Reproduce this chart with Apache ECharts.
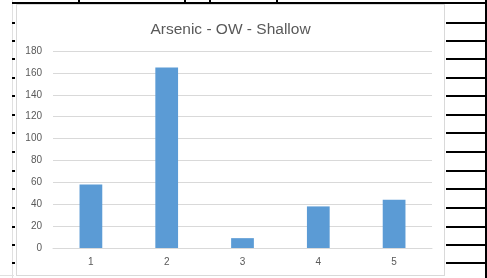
<!DOCTYPE html>
<html lang="en">

<head>
    <meta charset="UTF-8">
    <title>Arsenic - OW - Shallow</title>
    <script src="https://cdn.jsdelivr.net/npm/echarts@6/dist/echarts.min.js"></script>
    <style>
        body {
            margin: 0;
            background-color: white;
            width: 487px;
            height: 278px;
            position: relative;
            overflow: hidden;
        }

        .line {
            position: absolute;
            background-color: black;
        }

        .grayline {
            position: absolute;
            background-color: #e0e0e0;
        }

        #main {
            position: absolute;
            left: 16px;
            top: 4px;
            width: 429px;
            height: 272px;
            box-sizing: border-box;
            border: 1px solid #d9d9d9;
            background: white;
        }
    </style>
</head>

<body>
    <div id="sheet"></div>
    <div id="main"></div>

    <script>
        // chart data
        let categories = ['1', '2', '3', '4', '5'];
        let arsenicValues = [58, 165, 9, 38, 44];
        let yTicks = [0, 20, 40, 60, 80, 100, 120, 140, 160, 180];

        // spreadsheet cell borders around the chart
        let rowLines = [22, 40, 58, 77, 95, 114, 132, 151, 170, 188, 207, 226, 244, 262];
        let colLines = [78, 184, 209, 276];
        let sheet = document.getElementById('sheet');

        function addLine(cls, left, top, width, height) {
            let d = document.createElement('div');
            d.className = cls;
            d.style.left = left + 'px';
            d.style.top = top + 'px';
            d.style.width = width + 'px';
            d.style.height = height + 'px';
            sheet.appendChild(d);
        }

        addLine('grayline', 12, 0, 1, 278);
        addLine('grayline', 0, 275, 14, 1);
        addLine('line', 12, 2, 475, 2);
        addLine('line', 485, 0, 2, 278);
        colLines.forEach(x => addLine('line', x, 0, 2, 3));
        rowLines.forEach(y => {
            addLine('line', 446, y, 40, 2);
            addLine('line', 12, y, 3, 2);
        });

        let myChart = echarts.init(document.getElementById('main'));

        option = {
            animation: false,
            title: {
                text: 'Arsenic - OW - Shallow',
                left: 'center',
                top: 12,
                textStyle: {
                    fontFamily: 'Liberation Sans',
                    fontSize: 15.5,
                    fontWeight: 'normal',
                    color: '#595959'
                }
            },
            grid: {
                left: 36,
                right: 12,
                top: 46,
                bottom: 27
            },
            xAxis: {
                type: 'category',
                data: categories,
                axisLine: { lineStyle: { color: '#d9d9d9' } },
                axisTick: { show: false },
                axisLabel: {
                    color: '#595959',
                    fontSize: 10,
                    fontFamily: 'Liberation Sans',
                    margin: 9
                }
            },
            yAxis: {
                type: 'value',
                min: yTicks[0],
                max: yTicks[yTicks.length - 1],
                interval: 20,
                axisLine: { show: false },
                axisTick: { show: false },
                splitLine: { lineStyle: { color: '#d9d9d9' } },
                axisLabel: {
                    color: '#595959',
                    fontSize: 10,
                    fontFamily: 'Liberation Sans',
                    margin: 11
                }
            },
            series: [
                {
                    type: 'bar',
                    data: arsenicValues,
                    barWidth: '30%',
                    itemStyle: { color: '#5b9bd5' }
                }
            ]
        };

        myChart.setOption(option);
    </script>

</body>

</html>
